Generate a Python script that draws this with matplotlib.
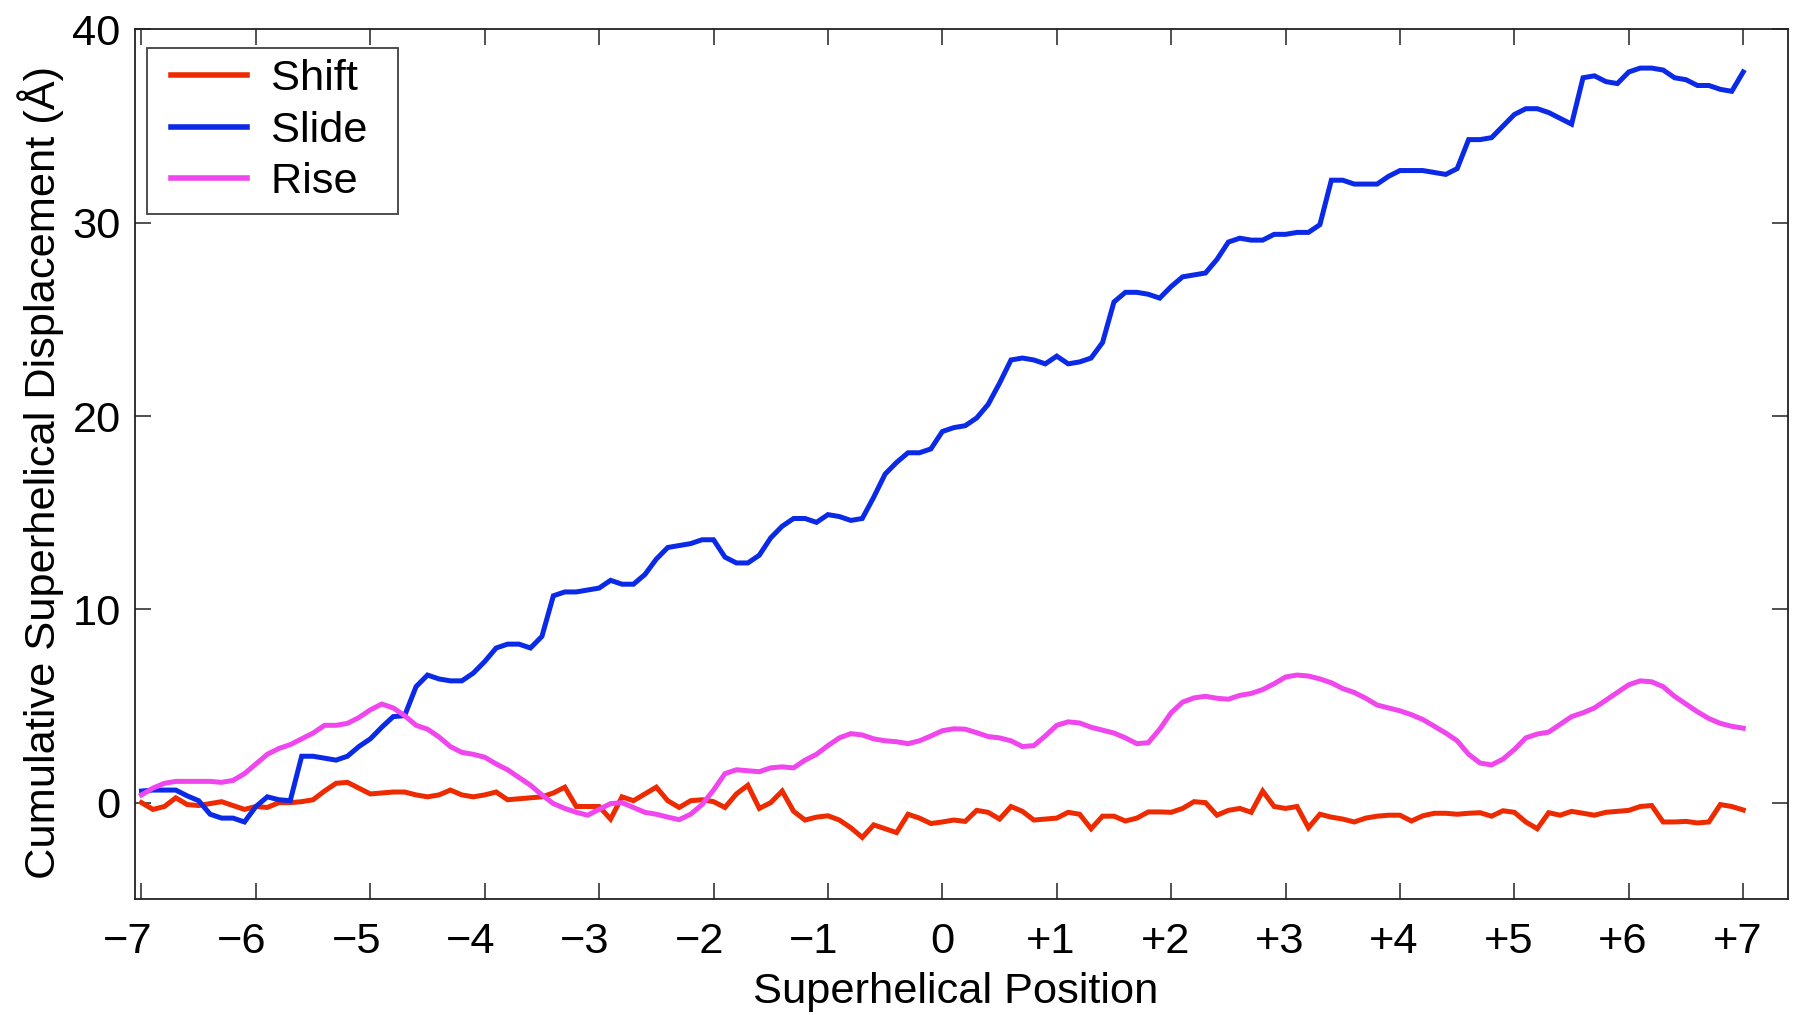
import numpy as np
import matplotlib
matplotlib.use("Agg")
import matplotlib.pyplot as plt
from matplotlib.lines import Line2D
from matplotlib.legend_handler import HandlerLine2D
from matplotlib.transforms import ScaledTranslation

plt.rcParams['font.family'] = ['Liberation Sans', 'DejaVu Sans']

# Superhelical positions (one value per base-pair step, -7 .. +7)
positions = np.linspace(-7.0, 7.0, 141)

shift = [
    0.0, -0.35, -0.2, 0.25, -0.1, -0.15, -0.05, 0.05, -0.15, -0.35,
    -0.2, -0.25, 0.0, 0.0, 0.05, 0.15, 0.6, 1.0, 1.05, 0.75,
    0.45, 0.5, 0.55, 0.55, 0.4, 0.3, 0.4, 0.65, 0.4, 0.3,
    0.4, 0.55, 0.15, 0.2, 0.25, 0.3, 0.5, 0.8, -0.2, -0.2,
    -0.2, -0.85, 0.3, 0.1, 0.45, 0.8, 0.1, -0.25, 0.1, 0.15,
    0.05, -0.25, 0.45, 0.9, -0.3, 0.0, 0.6, -0.45, -0.9, -0.75,
    -0.68, -0.9, -1.3, -1.8, -1.15, -1.35, -1.55, -0.6, -0.8, -1.08,
    -1.0, -0.9, -0.97, -0.4, -0.5, -0.85, -0.2, -0.45, -0.9, -0.85,
    -0.8, -0.5, -0.6, -1.35, -0.7, -0.7, -0.95, -0.8, -0.48, -0.48,
    -0.5, -0.3, 0.05, 0.0, -0.65, -0.4, -0.3, -0.5, 0.6, -0.2,
    -0.3, -0.2, -1.3, -0.6, -0.75, -0.85, -1.0, -0.8, -0.7, -0.65,
    -0.65, -0.95, -0.68, -0.55, -0.55, -0.6, -0.55, -0.52, -0.7, -0.42,
    -0.5, -1.0, -1.35, -0.52, -0.65, -0.45, -0.55, -0.65, -0.5, -0.45,
    -0.4, -0.2, -0.15, -1.0, -1.0, -0.97, -1.05, -1.0, -0.1, -0.2,
    -0.38,
]

slide = [
    0.6, 0.65, 0.65, 0.65, 0.35, 0.1, -0.6, -0.8, -0.8, -1.0,
    -0.2, 0.3, 0.15, 0.1, 2.4, 2.4, 2.3, 2.2, 2.4, 2.9,
    3.3, 3.9, 4.45, 4.5, 6.0, 6.6, 6.4, 6.3, 6.3, 6.7,
    7.3, 8.0, 8.2, 8.2, 8.0, 8.6, 10.7, 10.9, 10.9, 11.0,
    11.1, 11.5, 11.3, 11.3, 11.8, 12.6, 13.2, 13.3, 13.4, 13.6,
    13.6, 12.7, 12.4, 12.4, 12.8, 13.7, 14.3, 14.7, 14.7, 14.5,
    14.9, 14.8, 14.6, 14.7, 15.8, 17.0, 17.6, 18.1, 18.1, 18.3,
    19.2, 19.4, 19.5, 19.9, 20.6, 21.7, 22.9, 23.0, 22.9, 22.7,
    23.1, 22.7, 22.8, 23.0, 23.8, 25.9, 26.4, 26.4, 26.3, 26.1,
    26.7, 27.2, 27.3, 27.4, 28.1, 29.0, 29.2, 29.1, 29.1, 29.4,
    29.4, 29.5, 29.5, 29.9, 32.2, 32.2, 32.0, 32.0, 32.0, 32.4,
    32.7, 32.7, 32.7, 32.6, 32.5, 32.8, 34.3, 34.3, 34.4, 35.0,
    35.6, 35.9, 35.9, 35.7, 35.4, 35.1, 37.5, 37.6, 37.3, 37.2,
    37.8, 38.0, 38.0, 37.9, 37.5, 37.4, 37.1, 37.1, 36.9, 36.8,
    37.8,
]

rise = [
    0.4, 0.75, 1.0, 1.1, 1.1, 1.1, 1.1, 1.05, 1.15, 1.5,
    2.0, 2.5, 2.8, 3.0, 3.3, 3.6, 4.0, 4.0, 4.1, 4.4,
    4.8, 5.1, 4.9, 4.5, 4.0, 3.8, 3.4, 2.9, 2.6, 2.5,
    2.35, 2.0, 1.7, 1.3, 0.9, 0.4, -0.05, -0.3, -0.5, -0.65,
    -0.35, -0.05, 0.0, -0.25, -0.5, -0.6, -0.75, -0.88, -0.6, -0.1,
    0.65, 1.5, 1.7, 1.65, 1.6, 1.8, 1.85, 1.8, 2.2, 2.5,
    2.95, 3.35, 3.57, 3.5, 3.3, 3.2, 3.15, 3.05, 3.2, 3.45,
    3.72, 3.82, 3.8, 3.62, 3.42, 3.35, 3.2, 2.9, 2.95, 3.45,
    4.0, 4.18, 4.12, 3.9, 3.75, 3.6, 3.35, 3.05, 3.1, 3.8,
    4.65, 5.2, 5.42, 5.5, 5.4, 5.35, 5.55, 5.65, 5.85, 6.15,
    6.5, 6.6, 6.55, 6.4, 6.2, 5.9, 5.7, 5.4, 5.05, 4.9,
    4.75, 4.55, 4.3, 3.95, 3.6, 3.2, 2.5, 2.05, 1.95, 2.25,
    2.75, 3.35, 3.55, 3.65, 4.05, 4.45, 4.65, 4.9, 5.3, 5.7,
    6.1, 6.3, 6.25, 6.0, 5.5, 5.1, 4.7, 4.35, 4.1, 3.95,
    3.85,
]

series_names = ["Shift", "Slide", "Rise"]
series_colors = ["#ee2a00", "#0a2ae8", "#f046ee"]

xtick_values = [-7, -6, -5, -4, -3, -2, -1, 0, 1, 2, 3, 4, 5, 6, 7]
xtick_labels = ["\u22127", "\u22126", "\u22125", "\u22124", "\u22123", "\u22122", "\u22121",
                "0", "+1", "+2", "+3", "+4", "+5", "+6", "+7"]
ytick_values = [0, 10, 20, 30, 40]

fig = plt.figure(figsize=(17.95, 10.15), dpi=100)
ax = fig.add_axes([0.075, 0.114, 0.921, 0.857])

for name, vals, col in zip(series_names, [shift, slide, rise], series_colors):
    ax.plot(positions, vals, color=col, lw=3.6, label=name + " \u2006",
            solid_joinstyle='miter')

ax.set_xlim(-7.06, 7.39)
ax.set_ylim(-5, 40)
ax.set_xticks(xtick_values)
ax.set_xticklabels(xtick_labels)
ax.set_yticks(ytick_values)

fs = 31.2
ax.tick_params(direction='in', length=11.5, width=1.1, top=True, right=True,
               labelsize=fs, color='#222222')
ax.tick_params(axis='x', pad=16)
ax.tick_params(axis='y', pad=10)
for sp in ax.spines.values():
    sp.set_linewidth(1.3)
    sp.set_color('#222222')

# signed labels sit slightly left of their ticks, as in the original
for lbl in ax.get_xticklabels():
    t = lbl.get_text()
    dx = -14 if t.startswith("\u2212") else (-6 if t.startswith("+") else 0)
    if dx:
        lbl.set_transform(lbl.get_transform() + ScaledTranslation(dx / 100, 0, fig.dpi_scale_trans))

ax.set_xlabel("Superhelical Position", fontsize=fs, labelpad=7.6)
ax.xaxis.label.set_x(0.4964)
ax.set_ylabel("Cumulative Superhelical Displacement (\u00c5)", fontsize=fs, labelpad=6)
ax.yaxis.label.set_y(0.4908)

leg = ax.legend(loc='upper left', bbox_to_anchor=(0.0077, 0.979), borderaxespad=0,
                fontsize=fs, frameon=True, fancybox=False, edgecolor='#111111',
                handlelength=2.04, handletextpad=0.55, borderpad=0.26, labelspacing=0.27,
                handler_map={Line2D: HandlerLine2D(xpad=0.29)})
leg.get_frame().set_linewidth(1.3)
for line in leg.get_lines():
    line.set_linewidth(4.0)

fig.savefig("out.png", dpi=100, facecolor='white')
